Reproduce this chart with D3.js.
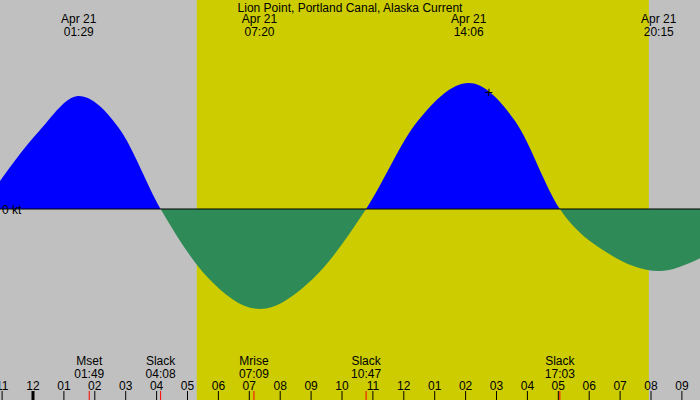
<!DOCTYPE html>
<html><head><meta charset="utf-8">
<script src="https://d3js.org/d3.v7.min.js"></script>
<style>body{margin:0}svg{display:block;font-family:"Liberation Sans",Arial,sans-serif;font-size:12px}</style>
</head><body><svg width="700" height="400"></svg>
<script>
// hours since midnight Apr 21, knots
var curveHours = [-1.07, 0.2, 1.48, 2.8, 4.13, 5.7, 7.33, 9.05, 10.78, 12.45, 14.1, 15.6, 17.05, 18.65, 20.25, 21.6];
var curveKnots = [0.28, 0.78, 1.13, 0.8, 0, -0.70, -1.00, -0.70, 0, 0.88, 1.26, 0.88, 0, -0.45, -0.62, -0.49];
var extremes = [{t: 1.48, label: "01:29"}, {t: 7.33, label: "07:20"}, {t: 14.1, label: "14:06"}, {t: 20.25, label: "20:15"}];
var events = [{t: 1.82, name: "Mset", label: "01:49"}, {t: 4.13, name: "Slack", label: "04:08"},
  {t: 7.15, name: "Mrise", label: "07:09"}, {t: 10.78, name: "Slack", label: "10:47"}, {t: 17.05, name: "Slack", label: "17:03"}];
var daylight = [5.3, 19.93];
var hourLabels = ["11","12","01","02","03","04","05","06","07","08","09","10","11","12","01","02","03","04","05","06","07","08","09"];
var nowMark = {t: 14.75, k: 1.17};

var svg = d3.select("svg");
var x = d3.scaleLinear().domain([0, 1]).range([33, 63.9]);
var y = d3.scaleLinear().domain([0, 1]).range([209, 109]);

svg.append("rect").attr("width", 700).attr("height", 400).attr("fill", "#c0c0c0");
svg.append("rect").attr("x", x(daylight[0])).attr("y", 0).attr("width", x(daylight[1]) - x(daylight[0]))
  .attr("height", 400).attr("fill", "#cccc00");

var pts = curveHours.map(function (h, i) { return [h, curveKnots[i]]; });
var area = d3.area().x(function (d) { return x(d[0]); }).y0(y(0)).y1(function (d) { return y(d[1]); })
  .curve(d3.curveMonotoneX);
var defs = svg.append("defs");
defs.append("clipPath").attr("id", "pos").append("rect").attr("width", 700).attr("height", y(0));
defs.append("clipPath").attr("id", "neg").append("rect").attr("y", y(0)).attr("width", 700).attr("height", 400);
svg.append("path").datum(pts).attr("d", area).attr("fill", "#0000ff").attr("clip-path", "url(#pos)");
svg.append("path").datum(pts).attr("d", area).attr("fill", "#2e8b57").attr("clip-path", "url(#neg)");
svg.append("line").attr("x1", 0).attr("x2", 700).attr("y1", y(0)).attr("y2", y(0)).attr("stroke", "#000");
svg.append("text").attr("x", 2).attr("y", y(0) + 5).text("0 kt");

svg.append("text").attr("x", 350).attr("y", 12).attr("text-anchor", "middle").text("Lion Point, Portland Canal, Alaska Current");
extremes.forEach(function (e) {
  var g = svg.append("g").attr("text-anchor", "middle");
  g.append("text").attr("x", x(e.t)).attr("y", 23).text("Apr 21");
  g.append("text").attr("x", x(e.t)).attr("y", 36).text(e.label);
});
events.forEach(function (e) {
  var g = svg.append("g").attr("text-anchor", "middle");
  g.append("text").attr("x", x(e.t)).attr("y", 365).text(e.name);
  g.append("text").attr("x", x(e.t)).attr("y", 378).text(e.label);
  svg.append("line").attr("x1", x(e.t)).attr("x2", x(e.t)).attr("y1", 391).attr("y2", 400).attr("stroke", "red");
});
hourLabels.forEach(function (l, i) {
  var h = i - 1;
  svg.append("text").attr("x", x(h)).attr("y", 390).attr("text-anchor", "middle").text(l);
  svg.append("line").attr("x1", x(h)).attr("x2", x(h)).attr("y1", 391).attr("y2", 400)
    .attr("stroke", "#000").attr("stroke-width", h === 0 ? 3 : 1);
});
svg.append("text").attr("x", x(nowMark.t)).attr("y", y(nowMark.k) + 5).attr("text-anchor", "middle")
  .attr("font-size", 14).text("+");
</script></body></html>
